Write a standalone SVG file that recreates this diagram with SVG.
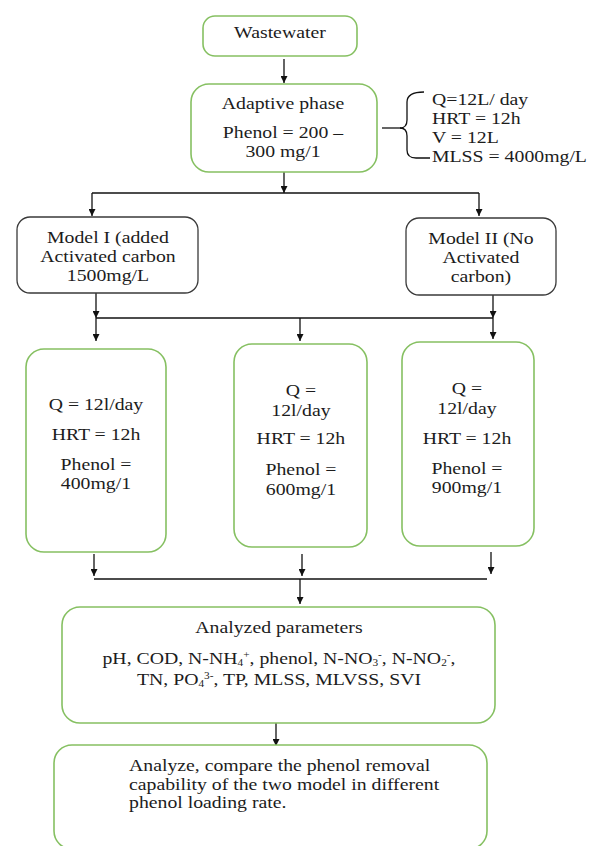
<svg xmlns="http://www.w3.org/2000/svg" width="590" height="846" viewBox="0 0 590 846" font-family="'Liberation Serif', 'DejaVu Serif', serif">
<style>
text{font-family:'Liberation Serif','Times New Roman','DejaVu Serif',serif;font-size:17.5px;fill:#1c1c1c}
.c{text-anchor:middle;transform-box:fill-box;transform-origin:50% 50%;transform:scaleX(1.13)}
.l{text-anchor:start;transform-box:fill-box;transform-origin:0 50%;transform:scaleX(1.13)}
.g{fill:#fff;stroke:#86c062;stroke-width:1.6}
.k{fill:#fff;stroke:#3a3a3a;stroke-width:1.3}
.w{fill:none;stroke:#111;stroke-width:1.3}
.s{font-size:10px}
</style>
<defs>
<marker id="ah" viewBox="0 0 10 10" refX="10" refY="5" markerWidth="9" markerHeight="7" markerUnits="userSpaceOnUse" orient="auto">
<path d="M0,0 L10,5 L0,10 z" fill="#111"/>
</marker>
</defs>
<rect width="590" height="846" fill="#fff"/>
<g id="connectors">
<path class="w" d="M284,59 V83" marker-end="url(#ah)"/>
<path class="w" d="M284,172 V193" marker-end="url(#ah)"/>
<path class="w" d="M92,193 H479"/>
<path class="w" d="M92,193 V216" marker-end="url(#ah)"/>
<path class="w" d="M479,193 V216" marker-end="url(#ah)"/>
<path class="w" d="M96,293 V318" marker-end="url(#ah)"/>
<path class="w" d="M493,295 V318" marker-end="url(#ah)"/>
<path class="w" d="M96,318 H493"/>
<path class="w" d="M96,318 V341" marker-end="url(#ah)"/>
<path class="w" d="M300,318 V341" marker-end="url(#ah)"/>
<path class="w" d="M493,318 V339" marker-end="url(#ah)"/>
<path class="w" d="M94,554 V576" marker-end="url(#ah)"/>
<path class="w" d="M302,554 V576" marker-end="url(#ah)"/>
<path class="w" d="M491,552 V574" marker-end="url(#ah)"/>
<path class="w" d="M94,579 H487"/>
<path class="w" d="M300,579 V604" marker-end="url(#ah)"/>
<path class="w" d="M276,723 V746" marker-end="url(#ah)"/>
</g>
<g id="wastewater">
<rect class="g" x="203" y="16" width="154" height="40" rx="12"/>
<text class="c" x="280" y="38">Wastewater</text>
</g>
<g id="adaptive">
<rect class="g" x="191" y="84" width="186" height="88" rx="18"/>
<text class="c" x="283" y="109">Adaptive phase</text>
<text class="c" x="283" y="138">Phenol = 200 –</text>
<text class="c" x="283" y="157">300 mg/1</text>
</g>
<g id="conditions">
<path class="w" d="M382,128 H401"/>
<path class="w" d="M424,92 Q407,92 407,102 V120 Q407,128 400,128 Q407,128 407,136 V150 Q407,158 416,158 H430"/>
<text class="l" x="432" y="105">Q=12L/ day</text>
<text class="l" x="432" y="124">HRT = 12h</text>
<text class="l" x="432" y="143">V = 12L</text>
<text class="l" x="432" y="162">MLSS = 4000mg/L</text>
</g>
<g id="model1">
<rect class="k" x="17" y="217" width="181" height="76" rx="13"/>
<text class="c" x="108" y="243">Model I (added</text>
<text class="c" x="108" y="262">Activated carbon</text>
<text class="c" x="108" y="281">1500mg/L</text>
</g>
<g id="model2">
<rect class="k" x="406" y="218" width="150" height="77" rx="13"/>
<text class="c" x="481" y="244">Model II (No</text>
<text class="c" x="481" y="263">Activated</text>
<text class="c" x="481" y="282">carbon)</text>
</g>
<g id="load400">
<rect class="g" x="26" y="349" width="140" height="203" rx="18"/>
<text class="c" x="96" y="410">Q = 12l/day</text>
<text class="c" x="96" y="440">HRT = 12h</text>
<text class="c" x="96" y="470">Phenol =</text>
<text class="c" x="96" y="489">400mg/1</text>
</g>
<g id="load600">
<rect class="g" x="234" y="344" width="133" height="203" rx="18"/>
<text class="c" x="301" y="396">Q =</text>
<text class="c" x="301" y="416">12l/day</text>
<text class="c" x="301" y="444">HRT = 12h</text>
<text class="c" x="301" y="475">Phenol =</text>
<text class="c" x="301" y="495">600mg/1</text>
</g>
<g id="load900">
<rect class="g" x="402" y="342" width="132" height="204" rx="18"/>
<text class="c" x="467" y="394">Q =</text>
<text class="c" x="467" y="414">12l/day</text>
<text class="c" x="467" y="444">HRT = 12h</text>
<text class="c" x="467" y="474">Phenol =</text>
<text class="c" x="467" y="493">900mg/1</text>
</g>
<g id="analyzed">
<rect class="g" x="62" y="607" width="433" height="116" rx="18"/>
<text class="c" x="279" y="633">Analyzed parameters</text>
<text class="c" x="279" y="664">pH, COD, N-NH<tspan class="s" dy="2">4</tspan><tspan class="s" dy="-8">+</tspan><tspan dy="6">, phenol, N-NO</tspan><tspan class="s" dy="2">3</tspan><tspan class="s" dy="-8">-</tspan><tspan dy="6">, N-NO</tspan><tspan class="s" dy="2">2</tspan><tspan class="s" dy="-8">-</tspan><tspan dy="6">,</tspan></text>
<text class="c" x="279" y="685">TN, PO<tspan class="s" dy="2">4</tspan><tspan class="s" dy="-8">3-</tspan><tspan dy="6">, TP, MLSS, MLVSS, SVI</tspan></text>
</g>
<g id="conclusion">
<rect class="g" x="54" y="745" width="433" height="104" rx="18"/>
<text class="l" x="129" y="771">Analyze, compare the phenol removal</text>
<text class="l" x="129" y="790">capability of the two model in different</text>
<text class="l" x="129" y="808">phenol loading rate.</text>
</g>
</svg>
